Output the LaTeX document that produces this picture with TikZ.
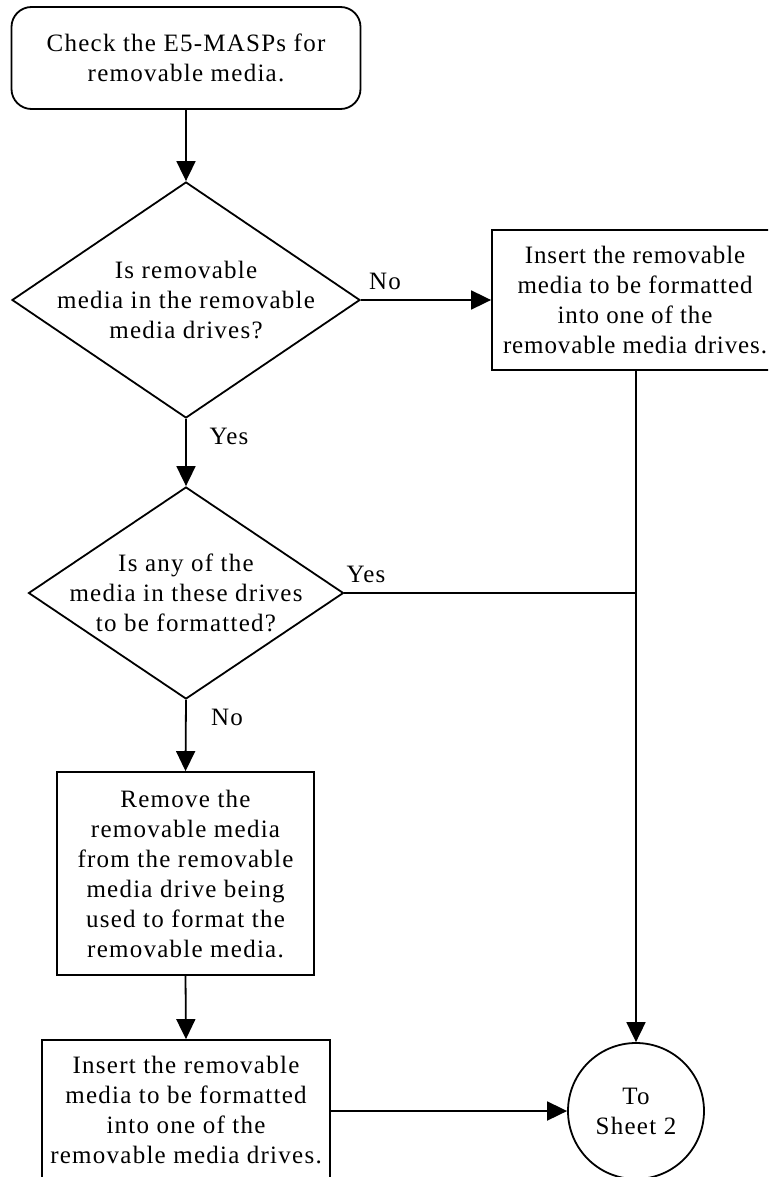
\documentclass[tikz,border=0pt]{standalone}
\usepackage{fontspec}
\setmainfont[LetterSpace=5]{Liberation Serif}
\usetikzlibrary{shapes.geometric,arrows.meta}
\begin{document}
\begin{tikzpicture}[x=1pt,y=-1pt,
  every node/.style={font=\fontsize{25}{30}\selectfont},
  line/.style={line width=1.8pt},
  arr/.style={line, -{Triangle[length=20pt,width=19pt]}},
  startbox/.style={draw, line width=1.8pt, rounded corners=20pt, minimum width=349pt, minimum height=102pt, inner sep=0pt},
  procbox/.style={draw, line width=1.8pt, inner sep=0pt},
  decision/.style={draw, line width=1.8pt, diamond, inner sep=0pt},
  txt/.style={align=center, inner sep=0pt},
  conn/.style={draw, line width=1.8pt, circle, minimum size=136pt, inner sep=0pt, align=center},
  lbl/.style={inner sep=0pt}]
\useasboundingbox (0,0) rectangle (768,1177);
\begin{scope}
\clip (0,0) rectangle (768,1177);

% start
\node[startbox, align=center] (start) at (186,58) {Check the E5-MASPs for\\removable media.};

% first decision
\node[decision, minimum width=348pt, minimum height=236pt] (d1) at (186,300) {};
\node[txt] (d1t) at (d1.center) {Is removable\\media in the removable\\media drives?};

% insert media (right), set a touch tighter so it stays on the page
\node[procbox, minimum width=288pt, minimum height=140pt] (ins1) at (636,300) {};
\node[txt, font=\fontsize{25}{30}\selectfont\addfontfeature{LetterSpace=3.5}] (ins1t) at ([xshift=-1pt]ins1.center) {Insert the removable\\media to be formatted\\into one of the\\removable media drives.};

% second decision
\node[decision, minimum width=315pt, minimum height=212pt] (d2) at (186,593) {};
\node[txt] (d2t) at (d2.center) {Is any of the\\media in these drives\\to be formatted?};

% remove media
\node[procbox, minimum width=257pt, minimum height=203pt] (rem) at (185.5,873.5) {};
\node[txt] (remt) at (rem.center) {Remove the\\removable media\\from the removable\\media drive being\\used to format the\\removable media.};

% insert media (bottom)
\node[procbox, minimum width=288pt, minimum height=140pt] (ins2) at (186,1110) {};
\node[txt] (ins2t) at (ins2.center) {Insert the removable\\media to be formatted\\into one of the\\removable media drives.};

% off-page connector
\node[conn] (sheet) at (636,1111) {To\\Sheet 2};

\coordinate (j) at (ins1.south |- d2.east);

% connectors
\draw[arr] (start.south) -- (d1.north);
\draw[arr] (d1.east) -- (ins1.west);
\draw[arr] (d1.south) -- (d2.north);
\draw[line] (d2.east) -- (j);
\draw[arr] (ins1.south) -- (sheet.north);
\draw[arr] (d2.south) -- (rem.north);
\draw[arr] (rem.south) -- (ins2.north);
\draw[arr] (ins2.east |- sheet.west) -- (sheet.west);

% branch labels
\node[lbl] (no1) at (385,281) {No};
\node[lbl] (yes1) at (229,436) {Yes};
\node[lbl] (yes2) at (366,574) {Yes};
\node[lbl] (no2) at (227,717) {No};
\end{scope}
\end{tikzpicture}
\end{document}
